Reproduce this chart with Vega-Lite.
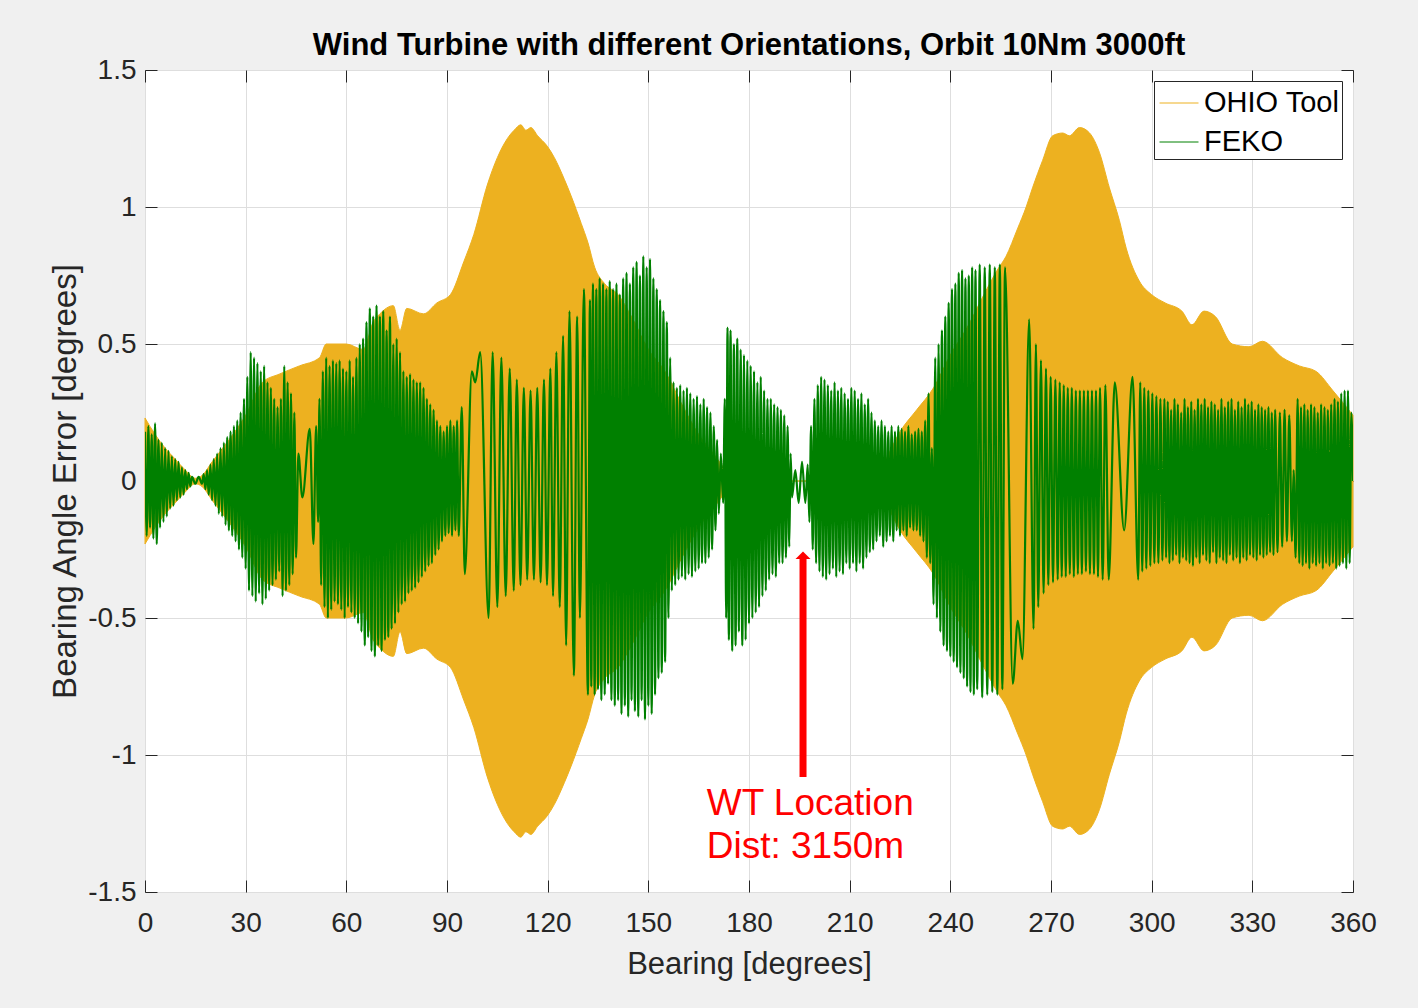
{
"$schema":"https://vega.github.io/schema/vega-lite/v6.json",
"width":1208,"height":822,
"autosize":{"type":"none"},
"padding":{"left":145,"top":70,"right":65,"bottom":116},
"background":"#f0f0f0",
"config":{"view":{"fill":"white","stroke":"#262626","strokeWidth":1},"font":"Liberation Sans"},
"title":{"text":"Wind Turbine with different Orientations, Orbit 10Nm 3000ft","fontSize":31,"fontWeight":"bold","font":"Liberation Sans","color":"black","offset":-6,"anchor":"middle"},
"datasets":{
"ohio":[{"b":0,"hi":0.23,"lo":-0.23},{"b":3,"hi":0.17,"lo":-0.17},{"b":6,"hi":0.12,"lo":-0.12},{"b":9,"hi":0.08,"lo":-0.08},{"b":12,"hi":0.04,"lo":-0.04},{"b":15,"hi":0.01,"lo":-0.01},{"b":17,"hi":0.02,"lo":-0.02},{"b":20,"hi":0.07,"lo":-0.07},{"b":25,"hi":0.15,"lo":-0.15},{"b":30,"hi":0.24,"lo":-0.24},{"b":35,"hi":0.36,"lo":-0.36},{"b":40,"hi":0.39,"lo":-0.39},{"b":46,"hi":0.42,"lo":-0.42},{"b":52,"hi":0.45,"lo":-0.45},{"b":54,"hi":0.5,"lo":-0.5},{"b":60,"hi":0.5,"lo":-0.5},{"b":65,"hi":0.48,"lo":-0.48},{"b":68,"hi":0.58,"lo":-0.58},{"b":70,"hi":0.61,"lo":-0.61},{"b":74,"hi":0.64,"lo":-0.64},{"b":76,"hi":0.55,"lo":-0.55},{"b":78,"hi":0.63,"lo":-0.63},{"b":83,"hi":0.61,"lo":-0.61},{"b":87,"hi":0.65,"lo":-0.65},{"b":91,"hi":0.68,"lo":-0.68},{"b":95,"hi":0.8,"lo":-0.8},{"b":98,"hi":0.9,"lo":-0.9},{"b":102,"hi":1.08,"lo":-1.08},{"b":105,"hi":1.18,"lo":-1.18},{"b":108,"hi":1.25,"lo":-1.25},{"b":110,"hi":1.28,"lo":-1.28},{"b":112,"hi":1.3,"lo":-1.3},{"b":113.5,"hi":1.28,"lo":-1.28},{"b":115,"hi":1.29,"lo":-1.29},{"b":117,"hi":1.26,"lo":-1.26},{"b":120,"hi":1.22,"lo":-1.22},{"b":122,"hi":1.18,"lo":-1.18},{"b":125,"hi":1.1,"lo":-1.1},{"b":127,"hi":1.04,"lo":-1.04},{"b":130,"hi":0.94,"lo":-0.94},{"b":132,"hi":0.87,"lo":-0.87},{"b":134,"hi":0.78,"lo":-0.78},{"b":137,"hi":0.72,"lo":-0.72},{"b":141,"hi":0.68,"lo":-0.68},{"b":145,"hi":0.6,"lo":-0.6},{"b":150,"hi":0.48,"lo":-0.48},{"b":155,"hi":0.4,"lo":-0.4},{"b":160,"hi":0.28,"lo":-0.28},{"b":165,"hi":0.17,"lo":-0.17},{"b":170,"hi":0.09,"lo":-0.09},{"b":174,"hi":0.02,"lo":-0.02},{"b":175,"hi":0,"lo":0},{"b":217,"hi":0,"lo":0},{"b":220,"hi":0.06,"lo":-0.06},{"b":225,"hi":0.18,"lo":-0.18},{"b":230,"hi":0.26,"lo":-0.26},{"b":235,"hi":0.34,"lo":-0.34},{"b":240,"hi":0.46,"lo":-0.46},{"b":245,"hi":0.56,"lo":-0.56},{"b":250,"hi":0.68,"lo":-0.68},{"b":254,"hi":0.77,"lo":-0.77},{"b":256.6,"hi":0.82,"lo":-0.82},{"b":260,"hi":0.92,"lo":-0.92},{"b":262.6,"hi":1.0,"lo":-1.0},{"b":264.5,"hi":1.07,"lo":-1.07},{"b":267.5,"hi":1.17,"lo":-1.17},{"b":270.5,"hi":1.26,"lo":-1.26},{"b":273.5,"hi":1.27,"lo":-1.27},{"b":275.5,"hi":1.26,"lo":-1.26},{"b":278.5,"hi":1.29,"lo":-1.29},{"b":281.5,"hi":1.27,"lo":-1.27},{"b":284.4,"hi":1.2,"lo":-1.2},{"b":287.4,"hi":1.07,"lo":-1.07},{"b":290.4,"hi":0.95,"lo":-0.95},{"b":292.4,"hi":0.85,"lo":-0.85},{"b":296.3,"hi":0.73,"lo":-0.73},{"b":300,"hi":0.68,"lo":-0.68},{"b":304,"hi":0.65,"lo":-0.65},{"b":309,"hi":0.62,"lo":-0.62},{"b":312,"hi":0.57,"lo":-0.57},{"b":315.6,"hi":0.62,"lo":-0.62},{"b":319,"hi":0.6,"lo":-0.6},{"b":324,"hi":0.5,"lo":-0.5},{"b":329,"hi":0.49,"lo":-0.49},{"b":333,"hi":0.51,"lo":-0.51},{"b":339,"hi":0.45,"lo":-0.45},{"b":344,"hi":0.42,"lo":-0.42},{"b":349,"hi":0.4,"lo":-0.4},{"b":354,"hi":0.33,"lo":-0.33},{"b":360,"hi":0.24,"lo":-0.24}],
"feko":[{"b":0,"e":0.18},{"b":0.5,"e":-0.2},{"b":1,"e":0.2},{"b":1.5,"e":-0.17},{"b":2,"e":0.17},{"b":2.5,"e":-0.21},{"b":3,"e":0.21},{"b":3.5,"e":-0.23},{"b":4,"e":0.15},{"b":4.5,"e":-0.17},{"b":5,"e":0.14},{"b":5.5,"e":-0.15},{"b":6,"e":0.12},{"b":6.5,"e":-0.13},{"b":7,"e":0.11},{"b":7.5,"e":-0.1},{"b":8,"e":0.09},{"b":8.5,"e":-0.09},{"b":9,"e":0.08},{"b":9.5,"e":-0.07},{"b":10,"e":0.07},{"b":10.5,"e":-0.06},{"b":11,"e":0.05},{"b":11.5,"e":-0.05},{"b":12,"e":0.04},{"b":12.5,"e":-0.03},{"b":13,"e":0.03},{"b":13.5,"e":-0.02},{"b":14,"e":0.015},{"b":15,"e":-0.01},{"b":16,"e":0.015},{"b":17,"e":-0.01},{"b":17.5,"e":0.025},{"b":18,"e":-0.03},{"b":18.5,"e":0.04},{"b":19,"e":-0.05},{"b":19.5,"e":0.06},{"b":20,"e":-0.07},{"b":20.5,"e":0.08},{"b":21,"e":-0.09},{"b":21.5,"e":0.1},{"b":22,"e":-0.12},{"b":22.5,"e":0.12},{"b":23,"e":-0.13},{"b":23.5,"e":0.14},{"b":24,"e":-0.16},{"b":24.5,"e":0.16},{"b":25,"e":-0.18},{"b":25.5,"e":0.18},{"b":26,"e":-0.2},{"b":26.5,"e":0.2},{"b":27,"e":-0.22},{"b":27.5,"e":0.22},{"b":28,"e":-0.25},{"b":28.5,"e":0.25},{"b":29,"e":-0.28},{"b":29.5,"e":0.3},{"b":30,"e":-0.32},{"b":30.5,"e":0.38},{"b":31,"e":-0.4},{"b":31.5,"e":0.47},{"b":32,"e":-0.42},{"b":32.5,"e":0.45},{"b":33,"e":-0.44},{"b":33.5,"e":0.43},{"b":34,"e":-0.41},{"b":34.5,"e":0.4},{"b":35,"e":-0.45},{"b":35.5,"e":0.42},{"b":36,"e":-0.43},{"b":36.5,"e":0.36},{"b":37,"e":-0.4},{"b":37.5,"e":0.34},{"b":38,"e":-0.38},{"b":38.5,"e":0.3},{"b":39,"e":-0.36},{"b":39.5,"e":0.27},{"b":40,"e":-0.33},{"b":40.5,"e":0.3},{"b":41,"e":-0.42},{"b":41.5,"e":0.42},{"b":42,"e":-0.4},{"b":42.5,"e":0.36},{"b":43,"e":-0.38},{"b":43.5,"e":0.32},{"b":44,"e":-0.34},{"b":44.5,"e":0.25},{"b":45,"e":-0.28},{"b":45.7,"e":0.1},{"b":46.9,"e":-0.06},{"b":49.1,"e":0.19},{"b":50.2,"e":-0.23},{"b":51,"e":0.2},{"b":51.6,"e":-0.15},{"b":52,"e":0.3},{"b":52.5,"e":-0.38},{"b":53,"e":0.4},{"b":53.5,"e":-0.46},{"b":54,"e":0.45},{"b":54.5,"e":-0.5},{"b":55,"e":0.42},{"b":55.5,"e":-0.47},{"b":56,"e":0.44},{"b":56.5,"e":-0.44},{"b":57,"e":0.43},{"b":57.5,"e":-0.45},{"b":58,"e":0.44},{"b":58.5,"e":-0.47},{"b":59,"e":0.41},{"b":59.5,"e":-0.5},{"b":60,"e":0.4},{"b":60.5,"e":-0.46},{"b":61,"e":0.44},{"b":61.5,"e":-0.48},{"b":62,"e":0.38},{"b":62.5,"e":-0.5},{"b":63,"e":0.45},{"b":63.5,"e":-0.52},{"b":64,"e":0.5},{"b":64.5,"e":-0.55},{"b":65,"e":0.52},{"b":65.5,"e":-0.6},{"b":66,"e":0.58},{"b":66.5,"e":-0.57},{"b":67,"e":0.63},{"b":67.5,"e":-0.62},{"b":68,"e":0.6},{"b":68.5,"e":-0.64},{"b":69,"e":0.64},{"b":69.5,"e":-0.6},{"b":70,"e":0.6},{"b":70.5,"e":-0.62},{"b":71,"e":0.62},{"b":71.5,"e":-0.58},{"b":72,"e":0.55},{"b":72.5,"e":-0.57},{"b":73,"e":0.6},{"b":73.5,"e":-0.54},{"b":74,"e":0.5},{"b":74.5,"e":-0.52},{"b":75,"e":0.52},{"b":75.5,"e":-0.48},{"b":76,"e":0.47},{"b":76.5,"e":-0.45},{"b":77,"e":0.4},{"b":77.5,"e":-0.44},{"b":78,"e":0.38},{"b":78.5,"e":-0.41},{"b":79,"e":0.39},{"b":79.5,"e":-0.4},{"b":80,"e":0.37},{"b":80.5,"e":-0.39},{"b":81,"e":0.36},{"b":81.5,"e":-0.37},{"b":82,"e":0.36},{"b":82.5,"e":-0.35},{"b":83,"e":0.34},{"b":83.5,"e":-0.33},{"b":84,"e":0.3},{"b":84.5,"e":-0.31},{"b":85,"e":0.28},{"b":85.5,"e":-0.3},{"b":86,"e":0.26},{"b":86.5,"e":-0.27},{"b":87,"e":0.22},{"b":87.5,"e":-0.25},{"b":88,"e":0.2},{"b":88.5,"e":-0.22},{"b":89,"e":0.18},{"b":89.5,"e":-0.2},{"b":90,"e":0.2},{"b":90.5,"e":-0.19},{"b":91,"e":0.22},{"b":91.5,"e":-0.2},{"b":92,"e":0.2},{"b":92.5,"e":-0.18},{"b":93,"e":0.22},{"b":93.5,"e":-0.2},{"b":94.4,"e":0.27},{"b":95.3,"e":-0.34},{"b":97.4,"e":0.4},{"b":98.4,"e":0.36},{"b":99.9,"e":0.47},{"b":102.4,"e":-0.5},{"b":103.6,"e":0.47},{"b":105,"e":-0.46},{"b":106.2,"e":0.45},{"b":107.5,"e":-0.42},{"b":108.7,"e":0.41},{"b":109.9,"e":-0.4},{"b":110.8,"e":0.37},{"b":111.9,"e":-0.38},{"b":112.9,"e":0.34},{"b":113.9,"e":-0.36},{"b":114.9,"e":0.33},{"b":115.9,"e":-0.36},{"b":116.9,"e":0.34},{"b":117.9,"e":-0.37},{"b":118.9,"e":0.37},{"b":119.8,"e":-0.38},{"b":120.8,"e":0.41},{"b":121.6,"e":-0.42},{"b":122.6,"e":0.47},{"b":123.6,"e":-0.46},{"b":124.6,"e":0.53},{"b":125.5,"e":-0.6},{"b":126.5,"e":0.62},{"b":127.8,"e":-0.71},{"b":128.8,"e":0.6},{"b":129.6,"e":-0.5},{"b":130.8,"e":0.7},{"b":132,"e":-0.78},{"b":132.6,"e":0.66},{"b":133,"e":-0.75},{"b":133.5,"e":0.72},{"b":134,"e":-0.78},{"b":134.5,"e":0.7},{"b":135,"e":-0.76},{"b":135.5,"e":0.74},{"b":136,"e":-0.8},{"b":136.5,"e":0.72},{"b":137,"e":-0.78},{"b":137.5,"e":0.7},{"b":138,"e":-0.74},{"b":138.5,"e":0.73},{"b":139,"e":-0.8},{"b":139.5,"e":0.7},{"b":140,"e":-0.82},{"b":140.5,"e":0.72},{"b":141,"e":-0.8},{"b":141.5,"e":0.68},{"b":142,"e":-0.85},{"b":142.5,"e":0.74},{"b":143,"e":-0.82},{"b":143.5,"e":0.76},{"b":144,"e":-0.86},{"b":144.5,"e":0.72},{"b":145,"e":-0.8},{"b":145.5,"e":0.78},{"b":146,"e":-0.84},{"b":146.5,"e":0.8},{"b":147,"e":-0.86},{"b":147.5,"e":0.75},{"b":148,"e":-0.8},{"b":148.5,"e":0.82},{"b":149,"e":-0.87},{"b":149.5,"e":0.78},{"b":150,"e":-0.82},{"b":150.5,"e":0.81},{"b":151,"e":-0.85},{"b":151.5,"e":0.74},{"b":152,"e":-0.78},{"b":152.5,"e":0.7},{"b":153,"e":-0.72},{"b":153.5,"e":0.66},{"b":154,"e":-0.7},{"b":154.5,"e":0.62},{"b":155,"e":-0.66},{"b":155.5,"e":0.58},{"b":156,"e":-0.5},{"b":156.5,"e":0.45},{"b":157,"e":-0.4},{"b":157.5,"e":0.36},{"b":158,"e":-0.38},{"b":158.5,"e":0.34},{"b":159,"e":-0.36},{"b":159.5,"e":0.35},{"b":160,"e":-0.35},{"b":160.5,"e":0.33},{"b":161,"e":-0.36},{"b":161.5,"e":0.34},{"b":162,"e":-0.34},{"b":162.5,"e":0.32},{"b":163,"e":-0.35},{"b":163.5,"e":0.3},{"b":164,"e":-0.33},{"b":164.5,"e":0.31},{"b":165,"e":-0.32},{"b":165.5,"e":0.28},{"b":166,"e":-0.3},{"b":166.5,"e":0.3},{"b":167,"e":-0.3},{"b":167.5,"e":0.27},{"b":168,"e":-0.28},{"b":168.5,"e":0.25},{"b":169,"e":-0.25},{"b":169.5,"e":0.2},{"b":170,"e":-0.18},{"b":170.5,"e":0.15},{"b":171,"e":-0.12},{"b":171.6,"e":0.1},{"b":172.3,"e":-0.08},{"b":172.8,"e":0.3},{"b":173.2,"e":-0.5},{"b":173.6,"e":0.56},{"b":174,"e":-0.58},{"b":174.5,"e":0.55},{"b":175,"e":-0.62},{"b":175.5,"e":0.5},{"b":176,"e":-0.6},{"b":176.5,"e":0.52},{"b":177,"e":-0.55},{"b":177.5,"e":0.48},{"b":178,"e":-0.6},{"b":178.5,"e":0.46},{"b":179,"e":-0.58},{"b":179.5,"e":0.44},{"b":180,"e":-0.52},{"b":180.5,"e":0.42},{"b":181,"e":-0.5},{"b":181.5,"e":0.4},{"b":182,"e":-0.48},{"b":182.5,"e":0.36},{"b":183,"e":-0.46},{"b":183.5,"e":0.38},{"b":184,"e":-0.42},{"b":184.5,"e":0.33},{"b":185,"e":-0.4},{"b":185.5,"e":0.3},{"b":186,"e":-0.36},{"b":186.5,"e":0.3},{"b":187,"e":-0.34},{"b":187.5,"e":0.28},{"b":188,"e":-0.35},{"b":188.5,"e":0.27},{"b":189,"e":-0.3},{"b":189.5,"e":0.26},{"b":190,"e":-0.3},{"b":190.5,"e":0.24},{"b":191,"e":-0.28},{"b":191.5,"e":0.2},{"b":192,"e":-0.24},{"b":192.4,"e":0.1},{"b":192.8,"e":-0.06},{"b":193.8,"e":0.04},{"b":194.8,"e":-0.08},{"b":195.8,"e":0.07},{"b":196.8,"e":-0.08},{"b":197.5,"e":0.06},{"b":198,"e":-0.15},{"b":198.5,"e":0.2},{"b":199,"e":-0.25},{"b":199.5,"e":0.3},{"b":200,"e":-0.3},{"b":200.5,"e":0.35},{"b":201,"e":-0.33},{"b":201.5,"e":0.38},{"b":202,"e":-0.35},{"b":202.5,"e":0.37},{"b":203,"e":-0.36},{"b":203.5,"e":0.35},{"b":204,"e":-0.34},{"b":204.5,"e":0.33},{"b":205,"e":-0.32},{"b":205.5,"e":0.36},{"b":206,"e":-0.35},{"b":206.5,"e":0.33},{"b":207,"e":-0.33},{"b":207.5,"e":0.34},{"b":208,"e":-0.34},{"b":208.5,"e":0.32},{"b":209,"e":-0.3},{"b":209.5,"e":0.3},{"b":210,"e":-0.32},{"b":210.5,"e":0.34},{"b":211,"e":-0.3},{"b":211.5,"e":0.33},{"b":212,"e":-0.33},{"b":212.5,"e":0.3},{"b":213,"e":-0.3},{"b":213.5,"e":0.32},{"b":214,"e":-0.32},{"b":214.5,"e":0.28},{"b":215,"e":-0.28},{"b":215.5,"e":0.3},{"b":216,"e":-0.26},{"b":216.5,"e":0.25},{"b":217,"e":-0.25},{"b":217.5,"e":0.22},{"b":218,"e":-0.22},{"b":218.5,"e":0.2},{"b":219,"e":-0.2},{"b":219.5,"e":0.22},{"b":220,"e":-0.24},{"b":220.5,"e":0.2},{"b":221,"e":-0.22},{"b":221.5,"e":0.18},{"b":222,"e":-0.2},{"b":222.5,"e":0.2},{"b":223,"e":-0.22},{"b":223.5,"e":0.18},{"b":224,"e":-0.18},{"b":224.5,"e":0.2},{"b":225,"e":-0.2},{"b":225.5,"e":0.19},{"b":226,"e":-0.18},{"b":226.5,"e":0.18},{"b":227,"e":-0.2},{"b":227.5,"e":0.2},{"b":228,"e":-0.17},{"b":228.5,"e":0.17},{"b":229,"e":-0.18},{"b":229.5,"e":0.18},{"b":230,"e":-0.18},{"b":230.5,"e":0.19},{"b":231,"e":-0.2},{"b":231.5,"e":0.18},{"b":232,"e":-0.22},{"b":232.5,"e":0.22},{"b":233,"e":-0.28},{"b":233.5,"e":0.32},{"b":234,"e":-0.3},{"b":234.5,"e":0.12},{"b":235,"e":-0.45},{"b":235.5,"e":0.45},{"b":236,"e":-0.5},{"b":236.5,"e":0.5},{"b":237,"e":-0.55},{"b":237.5,"e":0.55},{"b":238,"e":-0.6},{"b":238.5,"e":0.6},{"b":239,"e":-0.62},{"b":239.5,"e":0.65},{"b":240,"e":-0.64},{"b":240.5,"e":0.7},{"b":241,"e":-0.66},{"b":241.5,"e":0.72},{"b":242,"e":-0.68},{"b":242.5,"e":0.76},{"b":243,"e":-0.7},{"b":243.5,"e":0.77},{"b":244,"e":-0.72},{"b":244.5,"e":0.74},{"b":245,"e":-0.75},{"b":245.5,"e":0.75},{"b":246,"e":-0.77},{"b":246.5,"e":0.78},{"b":247,"e":-0.78},{"b":247.5,"e":0.77},{"b":248,"e":-0.76},{"b":248.75,"e":0.79},{"b":249.5,"e":-0.79},{"b":250.25,"e":0.78},{"b":251,"e":-0.78},{"b":251.75,"e":0.79},{"b":252.5,"e":-0.77},{"b":253.25,"e":0.78},{"b":254,"e":-0.78},{"b":254.75,"e":0.79},{"b":255.5,"e":-0.76},{"b":256.3,"e":0.78},{"b":258.6,"e":-0.74},{"b":260.1,"e":-0.51},{"b":261.5,"e":-0.65},{"b":263.5,"e":0.59},{"b":264.8,"e":-0.54},{"b":265.5,"e":0.5},{"b":266.2,"e":-0.46},{"b":267,"e":0.44},{"b":267.8,"e":-0.41},{"b":268.5,"e":0.41},{"b":269.2,"e":-0.38},{"b":269.9,"e":0.38},{"b":270.6,"e":-0.37},{"b":271.3,"e":0.37},{"b":272,"e":-0.36},{"b":272.6,"e":0.36},{"b":273.2,"e":-0.35},{"b":273.8,"e":0.35},{"b":274.4,"e":-0.35},{"b":275,"e":0.34},{"b":275.6,"e":-0.34},{"b":276.2,"e":0.34},{"b":276.8,"e":-0.35},{"b":277.4,"e":0.33},{"b":278,"e":-0.34},{"b":278.6,"e":0.33},{"b":279.2,"e":-0.34},{"b":279.8,"e":0.33},{"b":280.4,"e":-0.33},{"b":281,"e":0.33},{"b":281.6,"e":-0.34},{"b":282.2,"e":0.33},{"b":282.8,"e":-0.34},{"b":283.4,"e":0.33},{"b":284,"e":-0.35},{"b":284.6,"e":0.34},{"b":285.4,"e":-0.36},{"b":286.2,"e":0.35},{"b":287.2,"e":-0.36},{"b":289,"e":0.36},{"b":291.8,"e":-0.18},{"b":294.3,"e":0.38},{"b":296,"e":-0.36},{"b":296.6,"e":0.36},{"b":297.2,"e":-0.33},{"b":297.8,"e":0.34},{"b":298.4,"e":-0.32},{"b":299,"e":0.33},{"b":299.6,"e":-0.31},{"b":300.2,"e":0.32},{"b":300.8,"e":-0.3},{"b":301.4,"e":0.31},{"b":302,"e":-0.3},{"b":302.6,"e":0.3},{"b":303.2,"e":-0.29},{"b":303.8,"e":0.3},{"b":304.3,"e":-0.28},{"b":304.8,"e":0.29},{"b":305.3,"e":-0.3},{"b":305.8,"e":0.26},{"b":306.3,"e":-0.29},{"b":306.8,"e":0.3},{"b":307.3,"e":-0.27},{"b":307.8,"e":0.28},{"b":308.3,"e":-0.3},{"b":308.8,"e":0.25},{"b":309.3,"e":-0.28},{"b":309.8,"e":0.3},{"b":310.3,"e":-0.29},{"b":310.8,"e":0.27},{"b":311.3,"e":-0.3},{"b":311.8,"e":0.29},{"b":312.3,"e":-0.31},{"b":312.8,"e":0.26},{"b":313.3,"e":-0.28},{"b":313.8,"e":0.3},{"b":314.3,"e":-0.3},{"b":314.8,"e":0.28},{"b":315.3,"e":-0.27},{"b":315.8,"e":0.3},{"b":316.3,"e":-0.29},{"b":316.8,"e":0.27},{"b":317.3,"e":-0.3},{"b":317.8,"e":0.29},{"b":318.3,"e":-0.26},{"b":318.8,"e":0.28},{"b":319.3,"e":-0.3},{"b":319.8,"e":0.26},{"b":320.3,"e":-0.28},{"b":320.8,"e":0.3},{"b":321.3,"e":-0.29},{"b":321.8,"e":0.27},{"b":322.3,"e":-0.3},{"b":322.8,"e":0.29},{"b":323.3,"e":-0.27},{"b":323.8,"e":0.3},{"b":324.3,"e":-0.29},{"b":324.8,"e":0.26},{"b":325.3,"e":-0.28},{"b":325.8,"e":0.29},{"b":326.3,"e":-0.3},{"b":326.8,"e":0.27},{"b":327.3,"e":-0.28},{"b":327.8,"e":0.3},{"b":328.3,"e":-0.29},{"b":328.8,"e":0.28},{"b":329.3,"e":-0.27},{"b":329.8,"e":0.29},{"b":330.3,"e":-0.28},{"b":330.8,"e":0.26},{"b":331.3,"e":-0.29},{"b":331.8,"e":0.28},{"b":332.3,"e":-0.27},{"b":332.8,"e":0.27},{"b":333.3,"e":-0.28},{"b":333.8,"e":0.26},{"b":334.3,"e":-0.27},{"b":334.8,"e":0.27},{"b":335.3,"e":-0.26},{"b":335.8,"e":0.25},{"b":336.3,"e":-0.27},{"b":336.8,"e":0.26},{"b":337.5,"e":-0.26},{"b":338.2,"e":0.25},{"b":338.9,"e":-0.24},{"b":339.6,"e":0.26},{"b":340.3,"e":-0.22},{"b":341,"e":0.24},{"b":341.8,"e":-0.22},{"b":342.3,"e":0.04},{"b":342.9,"e":-0.28},{"b":343.5,"e":0.3},{"b":344,"e":-0.3},{"b":344.5,"e":0.27},{"b":345,"e":-0.31},{"b":345.5,"e":0.28},{"b":346,"e":-0.3},{"b":346.5,"e":0.26},{"b":347,"e":-0.32},{"b":347.5,"e":0.28},{"b":348,"e":-0.3},{"b":348.5,"e":0.27},{"b":349,"e":-0.31},{"b":349.5,"e":0.25},{"b":350,"e":-0.3},{"b":350.5,"e":0.28},{"b":351,"e":-0.32},{"b":351.5,"e":0.27},{"b":352,"e":-0.3},{"b":352.5,"e":0.26},{"b":353,"e":-0.31},{"b":353.5,"e":0.28},{"b":354,"e":-0.3},{"b":354.5,"e":0.3},{"b":355,"e":-0.32},{"b":355.5,"e":0.29},{"b":356,"e":-0.31},{"b":356.5,"e":0.32},{"b":357,"e":-0.3},{"b":357.5,"e":0.33},{"b":358,"e":-0.32},{"b":358.5,"e":0.33},{"b":359,"e":-0.3},{"b":359.5,"e":0.25},{"b":360,"e":0}],
"arrow":[{"b":196.1,"v":-0.281,"v2":-1.08,"h":-0.271}],
"notes":[{"b":167.4,"v":-1.219,"t":"WT Location"},{"b":167.4,"v":-1.376,"t":"Dist: 3150m"}]
},
"layer":[
{"data":{"name":"ohio"},
 "mark":{"type":"area","stroke":"#EDB120","strokeWidth":1,"opacity":1,"interpolate":"monotone"},
 "encoding":{
  "x":{"field":"b","type":"quantitative","scale":{"domain":[0,360],"nice":false,"zero":false},
   "axis":{"orient":"bottom","values":[0,30,60,90,120,150,180,210,240,270,300,330,360],"title":"Bearing [degrees]","titleFont":"Liberation Sans","titleFontSize":31,"titleFontWeight":"normal","titleColor":"#262626","titlePadding":12,"labelFont":"Liberation Sans","labelFontSize":28,"labelColor":"#262626","labelFlush":false,"labelOverlap":false,"labelPadding":29,"tickSize":-12,"tickColor":"#262626","domain":false,"grid":true,"gridColor":"#dedede"}},
  "y":{"field":"hi","type":"quantitative","scale":{"domain":[-1.5,1.5],"nice":false,"zero":false},
   "axis":{"orient":"left","values":[-1.5,-1,-0.5,0,0.5,1,1.5],"labelExpr":"'' + datum.value","title":"Bearing Angle Error [degrees]","titleFont":"Liberation Sans","titleFontSize":33,"titleFontWeight":"normal","titleColor":"#262626","titlePadding":5,"labelFont":"Liberation Sans","labelFontSize":28,"labelColor":"#262626","labelOverlap":false,"labelPadding":21,"tickSize":-12,"tickColor":"#262626","domain":false,"grid":true,"gridColor":"#dedede"}},
  "y2":{"field":"lo"},
  "color":{"datum":"OHIO Tool","type":"nominal","scale":{"domain":["OHIO Tool","FEKO"],"range":["#EDB120","#008000"]},
   "legend":{"title":null,"orient":"top-right","offset":11,"symbolType":"stroke","symbolSize":1521,"symbolStrokeWidth":1,"symbolOffset":3,"labelFont":"Liberation Sans","labelFontSize":29,"labelColor":"black","labelOffset":5,"padding":2,"rowPadding":4,"fillColor":"white","strokeColor":"#262626",
    "encode":{"symbols":{"stroke":{"scale":"color","field":"value"},"strokeWidth":{"value":1.2},"opacity":{"value":1}}}}}
 }},
{"data":{"name":"feko"},
 "mark":{"type":"line","strokeWidth":2.2,"interpolate":"monotone","clip":true},
 "encoding":{
  "x":{"field":"b","type":"quantitative","axis":null},
  "y":{"field":"e","type":"quantitative","axis":null},
  "color":{"datum":"FEKO","type":"nominal"}
 }},
{"data":{"name":"arrow"},
 "mark":{"type":"rule","color":"#ff0000","strokeWidth":7},
 "encoding":{
  "x":{"field":"b","type":"quantitative","axis":{"orient":"top","values":[0,30,60,90,120,150,180,210,240,270,300,330,360],"labels":false,"title":null,"grid":false,"domain":false,"tickSize":-12,"tickColor":"#262626"}},
  "y":{"field":"v","type":"quantitative","axis":{"orient":"right","values":[-1.5,-1,-0.5,0,0.5,1,1.5],"labels":false,"title":null,"grid":false,"domain":false,"tickSize":-12,"tickColor":"#262626"}},
  "y2":{"field":"v2"}
 }},
{"data":{"name":"arrow"},
 "mark":{"type":"point","shape":"M0,-0.5L1,0.5L-1,0.5Z","size":225,"filled":true,"color":"#ff0000","opacity":1,"strokeWidth":0},
 "encoding":{
  "x":{"field":"b","type":"quantitative","axis":null},
  "y":{"field":"h","type":"quantitative","axis":null}
 }},
{"data":{"name":"notes"},
 "mark":{"type":"text","align":"left","baseline":"alphabetic","fontSize":37,"font":"Liberation Sans","color":"#ff0000"},
 "encoding":{
  "x":{"field":"b","type":"quantitative","axis":null},
  "y":{"field":"v","type":"quantitative","axis":null},
  "text":{"field":"t"}
 }}
],
"resolve":{"axis":{"x":"independent","y":"independent"}}
}
